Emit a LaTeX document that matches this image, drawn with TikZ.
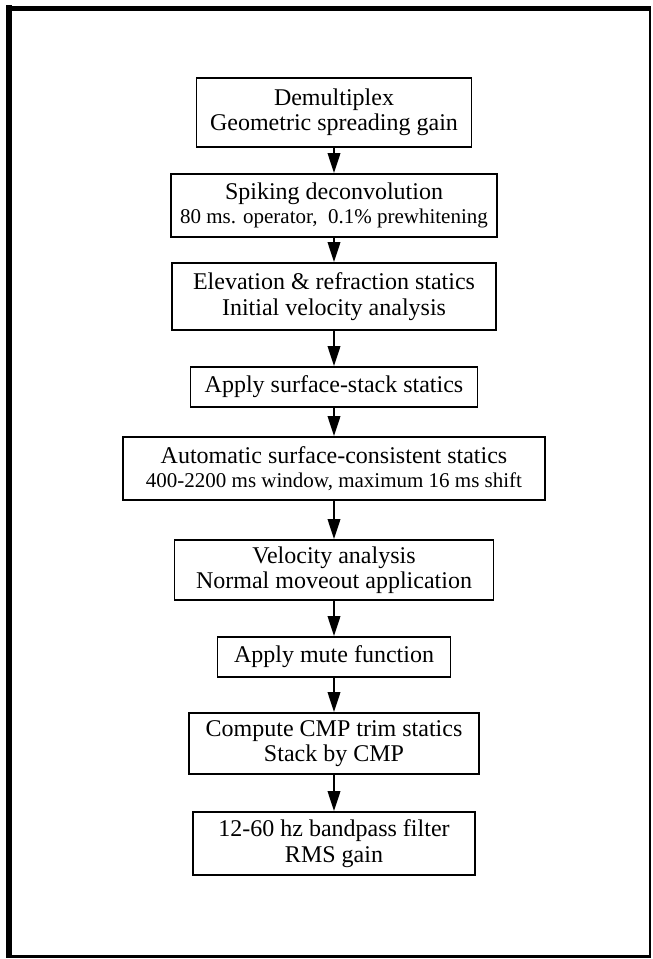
\documentclass[tikz,border=0pt]{standalone}
\usepackage{fontspec}
\setmainfont{Liberation Serif}
\usetikzlibrary{arrows.meta, positioning}

\newcommand{\smalltext}[1]{{\fontsize{21}{22}\selectfont #1}}

\begin{document}
\begin{tikzpicture}[
    x=1pt, y=-1pt,
    ->,
    >={Triangle[length=20pt, width=12.5pt]},
    line width=2pt,
    stepbox/.style={rectangle, draw, line width=1.8pt, inner sep=0pt, align=center,
        font=\fontsize{24}{25.5}\selectfont}
]
    \useasboundingbox (0,0) rectangle (653,959);

    % outer frame
    \draw[-, line width=6pt] (8.5,5) -- (8.5,957.5);
    \draw[-, line width=5pt] (6,8) -- (651,8);
    \draw[-, line width=2pt] (650,6) -- (650,957);
    \draw[-, line width=3pt] (6,956) -- (651,956);

    \node[stepbox, minimum width=275pt, minimum height=69pt] (Demux)  at (334,112.5) {Demultiplex\\Geometric spreading gain};
    \node[stepbox, minimum width=326pt, minimum height=63pt] (Decon)  at (334,205.5) {Spiking deconvolution\\[-2pt]\smalltext{80 ms. operator, \ 0.1\% prewhitening}};
    \node[stepbox, minimum width=324pt, minimum height=67pt] (Elev)   at (334,296.5) {Elevation \& refraction statics\\Initial velocity analysis};
    \node[stepbox, minimum width=287pt, minimum height=40pt] (Surf)   at (334,387)   {Apply surface-stack statics};
    \node[stepbox, minimum width=422pt, minimum height=63pt] (Auto)   at (334,468.5) {Automatic surface-consistent statics\\[-2pt]\smalltext{400-2200 ms window, maximum 16 ms shift}};
    \node[stepbox, minimum width=319pt, minimum height=60pt] (Velo)   at (334,570)   {Velocity analysis\\Normal moveout application};
    \node[stepbox, minimum width=233pt, minimum height=40pt] (Mute)   at (334,657)   {Apply mute function};
    \node[stepbox, minimum width=290pt, minimum height=61pt] (Trim)   at (334,743.5) {Compute CMP trim statics\\Stack by CMP};
    \node[stepbox, minimum width=282pt, minimum height=63pt] (Filter) at (334,843.5) {12-60 hz bandpass filter\\RMS gain};

    \path[->]
    (Demux) edge (Decon)
    (Decon) edge (Elev)
    (Elev)  edge (Surf)
    (Surf)  edge (Auto)
    (Auto)  edge (Velo)
    (Velo)  edge (Mute)
    (Mute)  edge (Trim)
    (Trim)  edge (Filter);
\end{tikzpicture}
\end{document}
